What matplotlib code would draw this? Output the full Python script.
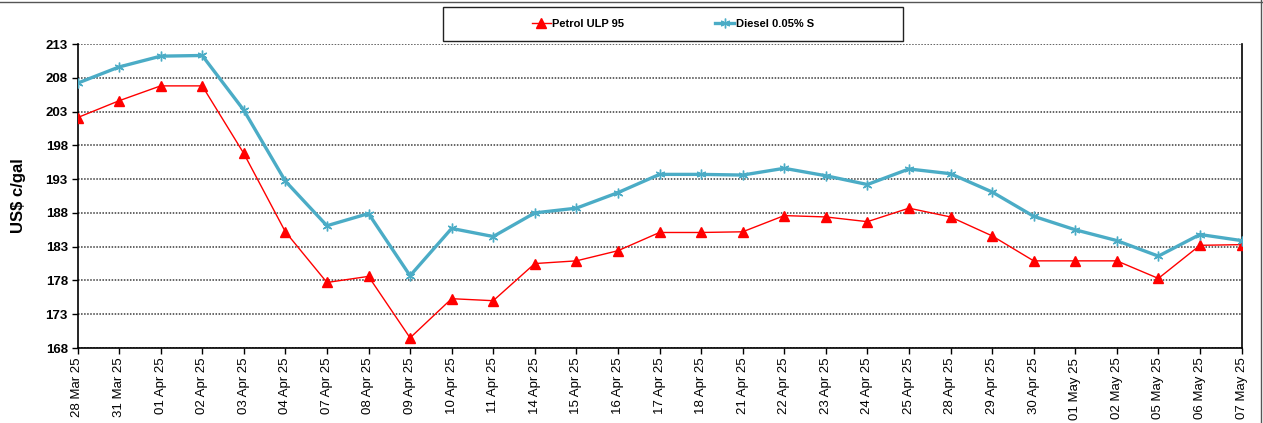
import matplotlib
matplotlib.use("Agg")
import matplotlib.pyplot as plt
from matplotlib.lines import Line2D

dates = ["28 Mar 25", "31 Mar 25", "01 Apr 25", "02 Apr 25", "03 Apr 25", "04 Apr 25",
         "07 Apr 25", "08 Apr 25", "09 Apr 25", "10 Apr 25", "11 Apr 25", "14 Apr 25",
         "15 Apr 25", "16 Apr 25", "17 Apr 25", "18 Apr 25", "21 Apr 25", "22 Apr 25",
         "23 Apr 25", "24 Apr 25", "25 Apr 25", "28 Apr 25", "29 Apr 25", "30 Apr 25",
         "01 May 25", "02 May 25", "05 May 25", "06 May 25", "07 May 25"]

petrol = [202.1, 204.6, 206.8, 206.8, 196.8, 185.2, 177.7, 178.6, 169.5, 175.3,
          175.0, 180.5, 180.9, 182.4, 185.1, 185.1, 185.2, 187.6, 187.4, 186.7,
          188.7, 187.4, 184.6, 180.9, 180.9, 180.9, 178.3, 183.2, 183.3]

diesel = [207.2, 209.6, 211.2, 211.3, 203.2, 192.7, 186.1, 187.9, 178.7, 185.7,
          184.5, 188.0, 188.7, 191.0, 193.7, 193.7, 193.6, 194.6, 193.5, 192.2,
          194.5, 193.8, 191.1, 187.5, 185.5, 183.9, 181.6, 184.8, 183.9]

yticks = [168, 173, 178, 183, 188, 193, 198, 203, 208, 213]

plt.rcParams['font.family'] = ['Liberation Sans', 'DejaVu Sans']

W, H = 1263, 423
fig = plt.figure(figsize=(W / 100, H / 100), dpi=100)
ax = fig.add_axes([77.5 / W, 1 - 348 / H, (1241.5 - 77.5) / W, (348 - 44) / H])

x = list(range(len(dates)))
red = '#FF0000'
blue = '#4BACC6'
ax.plot(x, petrol, color=red, lw=1.0, marker='^', ms=7, mec=red, mfc=red, zorder=3)
ax.plot(x, diesel, color=blue, lw=2.4, marker=(6, 2, 0), ms=7, mec=blue, mew=1.0, zorder=3)

ax.set_xlim(0, len(dates) - 1)
ax.set_ylim(yticks[0], yticks[-1])
ax.set_yticks(yticks)
ax.set_yticklabels([str(v) for v in yticks], fontsize=9.5, fontweight='bold')
ax.set_xticks(x)
ax.set_xticklabels(dates, rotation=90, fontsize=9.5)
ax.tick_params(axis='both', direction='out', length=4, width=1, color='black', pad=3)
ax.yaxis.grid(True, color='#3a3a3a', linestyle=(0, (1, 1)), linewidth=1.1)
ax.set_axisbelow(True)
for s in ['left', 'bottom', 'right']:
    ax.spines[s].set_color('black')
    ax.spines[s].set_linewidth(1.2)
ax.spines['top'].set_visible(False)

ax.set_ylabel('US$ c/gal', fontsize=12, fontweight='bold')
ax.yaxis.set_label_coords(-51 / (1241.5 - 77.5), 0.5)

# legend box
handles = [Line2D([], [], color=red, lw=1.0, marker='^', ms=7, mfc=red, mec=red),
           Line2D([], [], color=blue, lw=2.4, marker=(6, 2, 0), ms=7, mec=blue)]
leg = fig.legend(handles, ['Petrol ULP 95', 'Diesel 0.05% S'], ncol=2,
                 loc='center', bbox_to_anchor=((443 + 903) / 2 / W, 1 - 24 / H),
                 frameon=False, prop={'size': 8, 'weight': 'bold'},
                 handlelength=1.7, handletextpad=0.15, columnspacing=8.2)
fig.patches.append(plt.Rectangle((443 / W, 1 - 41 / H), 460 / W, 34 / H,
                                 transform=fig.transFigure, fill=False,
                                 edgecolor='#222222', lw=1.0))
# outer frame lines (top and right)
fig.add_artist(Line2D([0, 1], [1 - 2 / H, 1 - 2 / H], transform=fig.transFigure,
                      color='#555555', lw=1.0))
fig.add_artist(Line2D([1 - 2 / W, 1 - 2 / W], [0, 1], transform=fig.transFigure,
                      color='#555555', lw=1.0))

fig.savefig('out.png', dpi=100, facecolor='white')
